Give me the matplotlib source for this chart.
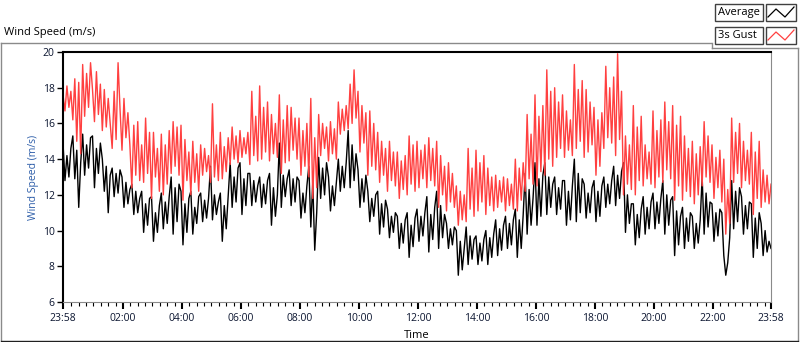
import numpy as np
import matplotlib
matplotlib.use("Agg")
import matplotlib.pyplot as plt
from matplotlib.lines import Line2D
from matplotlib.patches import Rectangle

plt.rcParams['font.family'] = ['Open Sans', 'DejaVu Sans']

# samples every 4 minutes, starting 23:58 and ending 23:58 next day
minutes = np.arange(0, 1441, 4)

gust = [
    17.6, 16.7, 18.1, 16.9, 17.8, 16.2, 18.5, 15.0, 18.3, 14.3,
    19.3, 16.4, 18.8, 16.9, 19.4, 17.9, 16.1, 18.9, 16.5, 18.2,
    15.6, 17.9, 15.8, 17.4, 16.0, 14.6, 17.8, 15.1, 19.4, 16.8,
    14.5, 17.4, 15.2, 16.6, 14.8, 12.4, 15.9, 13.1, 16.1, 12.8,
    14.8, 12.7, 16.3, 13.2, 15.5, 11.8, 15.5, 13.0, 14.6, 12.2,
    15.4, 12.0, 14.8, 12.6, 15.6, 13.2, 16.1, 13.6, 15.8, 13.1,
    15.9, 11.7, 15.1, 12.8, 14.4, 12.0, 15.0, 12.7, 14.3, 12.2,
    14.8, 13.1, 14.6, 13.3, 14.2, 12.7, 17.1, 13.0, 14.8, 12.8,
    15.5, 12.9, 14.7, 13.3, 15.2, 13.7, 15.8, 14.0, 15.3, 13.8,
    15.6, 14.1, 15.2, 14.3, 15.5, 13.7, 17.8, 14.2, 16.4, 13.9,
    18.1, 14.0, 16.9, 14.4, 17.2, 13.9, 16.5, 14.3, 16.0, 14.1,
    17.6, 13.2, 16.2, 13.8, 17.0, 13.9, 16.9, 14.5, 16.3, 14.0,
    16.3, 13.1, 15.6, 13.6, 16.0, 13.0, 17.4, 11.8, 15.2, 12.4,
    16.5, 14.2, 16.0, 14.6, 15.8, 13.9, 16.1, 14.3, 15.7, 14.0,
    17.2, 15.4, 16.8, 15.6, 17.0, 15.7, 18.2, 16.0, 19.0, 16.3,
    17.8, 14.4, 17.0, 14.9, 16.6, 13.1, 16.7, 13.6, 16.0, 13.4,
    15.5, 12.7, 15.0, 13.1, 14.6, 12.2, 15.0, 12.8, 14.4, 12.5,
    14.4, 11.8, 13.9, 12.3, 14.2, 12.0, 15.3, 12.6, 14.8, 12.2,
    15.0, 12.4, 14.5, 12.9, 14.8, 12.4, 15.2, 12.8, 14.6, 12.5,
    15.0, 11.3, 14.2, 12.0, 13.6, 11.1, 13.8, 11.6, 13.2, 11.3,
    12.5, 10.3, 12.2, 10.6, 12.0, 10.5, 14.6, 11.2, 13.5, 10.8,
    14.5, 11.1, 13.8, 11.6, 14.2, 10.9, 13.5, 11.4, 13.0, 11.1,
    13.1, 11.3, 12.8, 11.6, 13.0, 11.1, 12.9, 11.4, 12.6, 11.2,
    14.0, 11.1, 13.5, 11.7, 13.8, 12.2, 16.5, 12.9, 15.4, 12.6,
    17.6, 12.5, 16.4, 13.3, 17.0, 13.1, 19.0, 14.0, 17.8, 13.6,
    18.0, 14.1, 17.2, 14.6, 17.6, 14.1, 16.7, 14.5, 16.2, 14.2,
    19.3, 14.6, 17.9, 15.0, 18.4, 14.1, 17.9, 14.4, 17.2, 14.8,
    16.9, 13.1, 16.2, 13.6, 16.6, 14.6, 19.2, 15.2, 18.0, 14.9,
    18.6, 14.2, 19.9, 15.1, 17.8, 12.0, 15.3, 12.6, 14.8, 12.3,
    17.0, 12.0, 15.8, 12.8, 16.4, 12.5, 14.8, 12.9, 14.4, 12.6,
    16.7, 12.4, 15.6, 13.0, 16.2, 12.7, 17.2, 13.4, 16.1, 12.9,
    17.0, 11.7, 15.9, 12.5, 16.4, 11.7, 15.3, 12.2, 14.6, 11.9,
    15.0, 11.5, 14.3, 12.0, 14.7, 12.5, 16.1, 13.0, 15.3, 12.7,
    14.8, 11.8, 14.1, 12.4, 14.5, 11.6, 14.0, 9.8, 12.3, 10.4,
    16.3, 12.7, 15.5, 13.2, 16.0, 12.4, 15.0, 12.8, 14.5, 12.6,
    15.5, 10.9, 14.4, 11.8, 15.0, 11.3, 13.4, 11.6, 13.1, 11.5,
    12.6,
]

average = [
    14.9, 12.8, 14.2, 13.0, 14.6, 15.3, 12.9, 14.5, 11.3, 13.8,
    15.4, 13.1, 14.8, 13.5, 15.2, 15.3, 12.4, 14.6, 13.2, 14.9,
    14.0, 12.2, 13.6, 11.0, 13.1, 13.5, 11.9, 13.2, 12.1, 13.4,
    13.0, 11.3, 12.7, 11.5, 12.3, 12.6, 10.9, 12.2, 11.0, 11.8,
    12.2, 9.9, 11.5, 10.3, 11.8, 11.9, 9.4, 11.0, 9.9, 11.4,
    12.1, 10.1, 11.6, 10.4, 11.9, 13.0, 9.8, 12.4, 10.5, 12.6,
    12.2, 9.2, 11.5, 9.9, 11.8, 12.2, 9.8, 11.3, 10.4, 11.9,
    12.1, 10.5, 11.7, 10.7, 11.8, 13.6, 10.6, 12.0, 10.9, 11.6,
    12.1, 9.4, 11.4, 10.1, 11.9, 13.8, 11.3, 13.0, 11.6, 13.5,
    13.8, 10.9, 12.9, 11.4, 13.2, 13.2, 11.4, 12.8, 11.6, 12.5,
    13.0, 11.3, 12.6, 11.5, 12.8, 13.2, 10.3, 12.4, 10.8, 12.0,
    14.9, 11.3, 13.1, 11.9, 12.9, 13.4, 11.4, 12.9, 11.6, 13.0,
    12.8, 10.7, 12.1, 11.0, 12.5, 13.6, 10.2, 12.7, 8.9, 11.0,
    14.1, 11.8, 13.5, 12.0, 13.8, 13.0, 11.1, 12.5, 11.4, 12.7,
    14.0, 12.2, 13.6, 12.4, 13.8, 15.6, 12.4, 14.8, 12.8, 14.3,
    13.4, 11.3, 12.9, 11.6, 13.1, 12.2, 10.5, 11.8, 10.8, 12.0,
    12.2, 9.8, 11.5, 10.2, 11.7, 11.2, 9.6, 10.8, 9.9, 11.0,
    10.8, 9.0, 10.4, 9.3, 10.6, 11.0, 8.5, 10.3, 9.1, 10.7,
    11.2, 9.4, 10.8, 9.7, 11.0, 11.9, 8.8, 10.9, 9.5, 11.3,
    12.2, 9.0, 11.4, 9.6, 10.9, 10.4, 9.0, 10.1, 9.2, 10.2,
    10.0, 7.5, 9.4, 7.8, 9.0, 10.2, 8.1, 9.7, 8.4, 9.5,
    9.7, 8.1, 9.3, 8.3, 9.5, 10.0, 8.1, 9.6, 8.5, 9.8,
    10.6, 8.6, 10.1, 8.9, 10.3, 10.8, 9.0, 10.4, 9.2, 10.6,
    11.2, 8.5, 10.6, 9.0, 10.9, 13.2, 9.8, 12.3, 10.3, 11.8,
    13.8, 10.3, 12.9, 10.8, 13.1, 13.8, 10.9, 13.0, 11.3, 12.6,
    13.0, 10.9, 12.4, 11.2, 12.8, 12.8, 10.3, 12.2, 10.6, 12.5,
    14.0, 10.5, 13.2, 11.0, 12.9, 12.6, 10.7, 12.1, 11.0, 12.4,
    12.8, 10.5, 12.2, 10.8, 12.5, 13.0, 11.3, 12.6, 11.5, 12.8,
    13.6, 11.4, 13.1, 11.8, 13.3, 13.8, 9.9, 12.0, 10.4, 11.5,
    11.5, 9.2, 10.9, 9.6, 11.2, 11.9, 9.8, 11.3, 10.1, 11.6,
    12.1, 10.1, 11.6, 10.4, 11.8, 12.8, 9.8, 12.0, 10.3, 11.7,
    11.9, 8.6, 11.1, 9.2, 10.8, 11.3, 9.0, 10.7, 9.4, 11.0,
    10.8, 9.0, 10.4, 9.3, 10.6, 13.0, 9.8, 12.1, 10.2, 11.6,
    11.5, 9.4, 11.0, 9.7, 11.2, 11.0, 8.6, 7.5, 8.2, 9.6,
    12.8, 10.1, 12.2, 10.5, 12.4, 11.9, 9.8, 11.4, 10.1, 11.6,
    11.5, 8.5, 10.7, 9.0, 11.0, 10.4, 8.6, 10.0, 8.8, 9.4,
    9.0,
]

tick_minutes = [0, 122, 242, 362, 482, 602, 722, 842, 962, 1082, 1202, 1322, 1440]
tick_labels = ["23:58", "02:00", "04:00", "06:00", "08:00", "10:00", "12:00",
               "14:00", "16:00", "18:00", "20:00", "22:00", "23:58"]
y_ticks = [6, 8, 10, 12, 14, 16, 18, 20]

W, H = 800, 342
fig = plt.figure(figsize=(W / 100, H / 100), dpi=100)


def px(x, y):
    return x / W, 1 - y / H


ax = fig.add_axes([63 / W, 40 / H, 708 / W, 250 / H])
ax.plot(minutes, average, color="black", lw=1.0)
ax.plot(minutes, gust, color="#ff4040", lw=1.0)
ax.set_xlim(0, 1440)
ax.set_ylim(6, 20)

ax.set_yticks(y_ticks)
ax.set_xticks(tick_minutes)
ax.set_xticklabels(tick_labels)
minor = [m for m in range(17, 1440, 15) if m not in tick_minutes]
ax.set_xticks(minor, minor=True)
ax.tick_params(axis="both", labelsize=7.5, labelcolor="#0b1530", color="black")
ax.tick_params(axis="y", length=4, width=1, pad=2)
ax.tick_params(axis="x", which="major", length=5, width=1.5, pad=3)
ax.tick_params(axis="x", which="minor", length=3, width=0.8)

ax.spines["left"].set_linewidth(1.5)
ax.spines["top"].set_linewidth(1.5)
ax.spines["right"].set_color("#8a8a8a")
ax.spines["bottom"].set_color("#8a8a8a")

ax.set_ylabel("Wind Speed (m/s)", fontsize=7.5, color="#2b5ca8", labelpad=3)
ax.set_xlabel("Time", fontsize=8, color="black", labelpad=4)

# outer frame
grey = "#8a8a8a"
fig.add_artist(Line2D([px(1, 0)[0], px(1, 0)[0]], [px(0, 42.5)[1], px(0, 340)[1]], color=grey, lw=1))
fig.add_artist(Line2D([px(1, 0)[0], px(711, 0)[0]], [px(0, 42.5)[1]] * 2, color=grey, lw=1))
fig.add_artist(Line2D([px(712, 0)[0]] * 2, [px(0, 42.5)[1], px(0, 48)[1]], color=grey, lw=1))
fig.add_artist(Line2D([px(712, 0)[0], px(798, 0)[0]], [px(0, 48)[1]] * 2, color=grey, lw=1))
fig.add_artist(Line2D([px(797.5, 0)[0]] * 2, [px(0, 48)[1], px(0, 340)[1]], color=grey, lw=1))
fig.add_artist(Line2D([px(1, 0)[0], px(798, 0)[0]], [px(0, 340.5)[1]] * 2, color="#202020", lw=1))

fig.text(*px(4, 32), "Wind Speed (m/s)", fontsize=8, va="center", ha="left")

# legend boxes
for top, name, col in [(4, "Average", "black"), (27, "3s Gust", "#ff4040")]:
    fig.add_artist(Rectangle(px(715, top + 17), 48 / W, 17 / H, fill=False,
                             edgecolor="#404040", lw=1))
    fig.add_artist(Rectangle(px(766, top + 17), 30 / W, 17 / H, fill=False,
                             edgecolor="#404040", lw=1))
    fig.text(*px(718, top + 8.5), name, fontsize=8, va="center", ha="left")
    zx = [768, 776, 785, 794]
    zy = [top + 13, top + 5, top + 13, top + 3]
    fig.add_artist(Line2D([x / W for x in zx], [1 - y / H for y in zy], color=col, lw=0.9))

fig.savefig("out.png", dpi=100)
